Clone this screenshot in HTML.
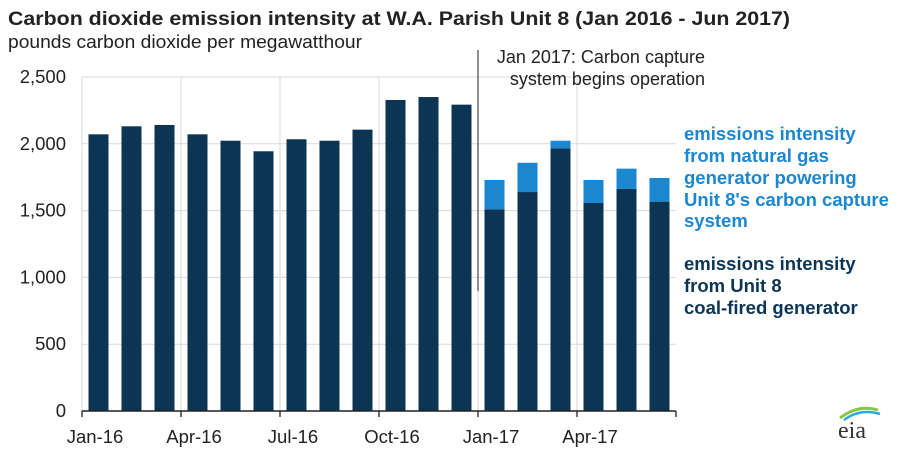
<!DOCTYPE html>
<html><head><meta charset="utf-8"><style>
body{margin:0;background:#fff;}
svg{display:block;font-family:"Liberation Sans",Arial,sans-serif;}
</style></head><body>
<svg width="907" height="454" viewBox="0 0 907 454">
<text x="8" y="25" font-size="19.5" font-weight="bold" fill="#222" textLength="782" lengthAdjust="spacingAndGlyphs">Carbon dioxide emission intensity at W.A. Parish Unit 8 (Jan 2016 - Jun 2017)</text>
<text x="8" y="48" font-size="18" fill="#222" textLength="354" lengthAdjust="spacingAndGlyphs">pounds carbon dioxide per megawatthour</text>
<g id="grid"></g>
<g id="bars"></g>
<g id="axes"></g>
<line x1="478" y1="50" x2="478" y2="291" stroke="#555" stroke-width="1.3"/>
<text x="705" y="63" font-size="18" fill="#222" text-anchor="end">Jan 2017: Carbon capture</text>
<text x="705" y="85" font-size="18" fill="#222" text-anchor="end">system begins operation</text>
<g font-size="18.5" font-weight="bold" fill="#1a87d0">
<text x="684" y="140">emissions intensity</text>
<text x="684" y="162">from natural gas</text>
<text x="684" y="184">generator powering</text>
<text x="684" y="206">Unit 8's carbon capture</text>
<text x="684" y="227">system</text>
</g>
<g font-size="18.5" font-weight="bold" fill="#0b3553">
<text x="684" y="270">emissions intensity</text>
<text x="684" y="292">from Unit 8</text>
<text x="684" y="314">coal-fired generator</text>
</g>
<g>
<path d="M840 418 Q858 404 878 410" stroke="#8cc63f" stroke-width="3" fill="none"/>
<path d="M844 420 Q860 408 880 414" stroke="#29abe2" stroke-width="2.5" fill="none"/>
<text x="838" y="438" font-size="24" fill="#333" font-family="Liberation Serif,serif">eia</text>
</g>
</svg>
<script>
const months=["Jan-16","Feb-16","Mar-16","Apr-16","May-16","Jun-16","Jul-16","Aug-16","Sep-16","Oct-16","Nov-16","Dec-16","Jan-17","Feb-17","Mar-17","Apr-17","May-17","Jun-17"];
const coal=[2071,2131,2141,2071,2023,1944,2034,2023,2106,2328,2350,2293,1510,1639,1966,1557,1662,1567];
const gas=[0,0,0,0,0,0,0,0,0,0,0,0,219,219,57,172,152,177];
const yTicks=[0,500,1000,1500,2000,2500];
const yTickLabels=["0","500","1,000","1,500","2,000","2,500"];
const xTickIdx=[0,3,6,9,12,15];
const xTickLabels=["Jan-16","Apr-16","Jul-16","Oct-16","Jan-17","Apr-17"];
const NS="http://www.w3.org/2000/svg";
const X0=82,X1=676,Y0=411,YTOP=77,YMAX=2500;
const slot=(X1-X0)/months.length;
function y(v){return Y0-(v/YMAX)*(Y0-YTOP);}
function xs(i){return X0+i*slot;}
function mk(t,a,p){const e=document.createElementNS(NS,t);for(const k in a)e.setAttribute(k,a[k]);p.appendChild(e);return e;}
const grid=document.getElementById('grid'),bars=document.getElementById('bars'),axes=document.getElementById('axes');
yTicks.forEach((v,i)=>{
 if(v>0){const l=mk('line',{x1:X0,x2:X1,y1:y(v),y2:y(v),stroke:'#d9d9d9','stroke-width':1},grid);
 
 }
 const t=mk('text',{x:66,y:y(v)+6,'font-size':18.5,fill:'#222','text-anchor':'end'},axes);
 t.textContent=yTickLabels[i];
 
 
});
xTickIdx.forEach((idx,i)=>{
 const x=xs(idx);
 if(idx>0){const g=mk('line',{x1:x,x2:x,y1:YTOP,y2:Y0,stroke:'#d9d9d9','stroke-width':1},grid);
 
 }
 const tk=mk('line',{x1:x,x2:x,y1:Y0,y2:Y0+6,stroke:'#222','stroke-width':1.3},axes);
 
 
 const t=mk('text',{x:x+13,y:Y0+32,'font-size':18.5,fill:'#222','text-anchor':'middle'},axes);
 t.textContent=xTickLabels[i];
 
 
});
const le=mk('line',{x1:X1,x2:X1,y1:Y0,y2:Y0+6,stroke:'#222','stroke-width':1.3},axes);


const lg=mk('line',{x1:X0,x2:X0,y1:YTOP,y2:Y0,stroke:'#d9d9d9'},grid);


months.forEach((m,i)=>{
 const bx=xs(i)+6.5,bw=20;
 const c=mk('rect',{x:bx,y:y(coal[i]),width:bw,height:Y0-y(coal[i]),fill:'#0b3553'},bars);
 
 
 if(gas[i]>0){const g=mk('rect',{x:bx,y:y(coal[i]+gas[i]),width:bw,height:y(coal[i])-y(coal[i]+gas[i]),fill:'#1a87d0'},bars);
 
 }
});
const ax=mk('line',{x1:X0,x2:X1,y1:Y0,y2:Y0,stroke:'#222','stroke-width':1.5},axes);


</script>
</body></html>
